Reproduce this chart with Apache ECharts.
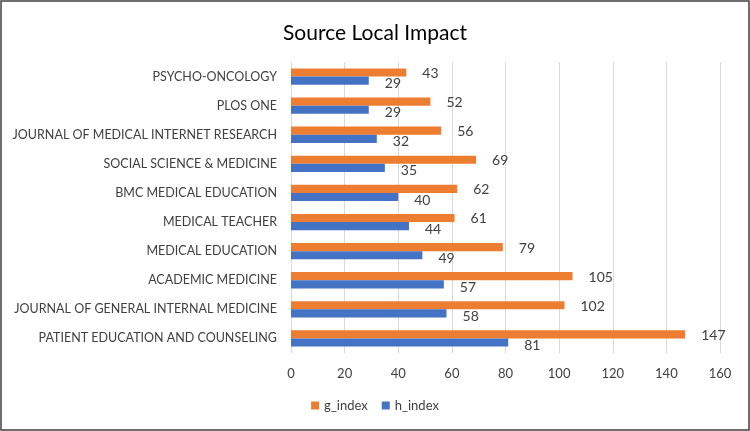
<!DOCTYPE html>
<html>
<head>
<meta charset="utf-8">
<script src="https://cdn.jsdelivr.net/npm/echarts@6/dist/echarts.min.js"></script>
<style>
  html, body { margin: 0; padding: 0; background: #fff; }
  #chart { width: 750px; height: 431px; }
</style>
</head>
<body>
<div id="chart"></div>
<script>
// bottom to top, like the picture
const sources = [
  "PATIENT EDUCATION AND COUNSELING",
  "JOURNAL OF GENERAL INTERNAL MEDICINE",
  "ACADEMIC MEDICINE",
  "MEDICAL EDUCATION",
  "MEDICAL TEACHER",
  "BMC MEDICAL EDUCATION",
  "SOCIAL SCIENCE & MEDICINE",
  "JOURNAL OF MEDICAL INTERNET RESEARCH",
  "PLOS ONE",
  "PSYCHO-ONCOLOGY"
];
const gIndex = [147, 102, 105, 79, 61, 62, 69, 56, 52, 43];
const hIndex = [81, 58, 57, 49, 44, 40, 35, 32, 29, 29];

const font = "Lato, 'Open Sans', sans-serif";

const chart = echarts.init(document.getElementById("chart"));

chart.setOption({
  animation: false,
  title: {
    text: "Source Local Impact",
    left: "center",
    top: 18,
    textStyle: { fontFamily: font, fontSize: 21, fontWeight: "normal", color: "#000" }
  },
  legend: {
    bottom: 14,
    left: "center",
    itemWidth: 8,
    itemHeight: 8,
    itemGap: 14,
    icon: "rect",
    textStyle: { fontFamily: font, fontSize: 13, color: "#404040" },
    data: ["g_index", "h_index"]
  },
  grid: { left: 291, right: 30, top: 62, bottom: 78, containLabel: false },
  xAxis: {
    type: "value",
    min: 0,
    max: 160,
    interval: 20,
    axisLine: { show: false },
    axisTick: { show: false },
    splitLine: { lineStyle: { color: "#D9D9D9" } },
    axisLabel: { fontFamily: font, fontSize: 13, color: "#404040", margin: 14 }
  },
  yAxis: {
    type: "category",
    data: sources,
    axisLine: { show: false },
    axisTick: { show: false },
    axisLabel: { fontFamily: font, fontSize: 12.5, color: "#404040", margin: 14 }
  },
  series: [
    {
      name: "g_index",
      type: "bar",
      data: gIndex,
      barGap: "0%",
      barCategoryGap: "44%",
      itemStyle: { color: "#ED7D31" },
      label: {
        show: true, position: "right", distance: 16, offset: [0, 1],
        fontFamily: font, fontSize: 14, color: "#404040"
      }
    },
    {
      name: "h_index",
      type: "bar",
      data: hIndex,
      itemStyle: { color: "#4472C4" },
      label: {
        show: true, position: "right", distance: 16, offset: [0, 3],
        fontFamily: font, fontSize: 14, color: "#404040"
      }
    }
  ],
  graphic: [{
    type: "rect",
    shape: { x: 1, y: 1, width: 748, height: 429 },
    style: { fill: "none", stroke: "#404040", lineWidth: 1.5 },
    silent: true
  }]
});
</script>
</body>
</html>
